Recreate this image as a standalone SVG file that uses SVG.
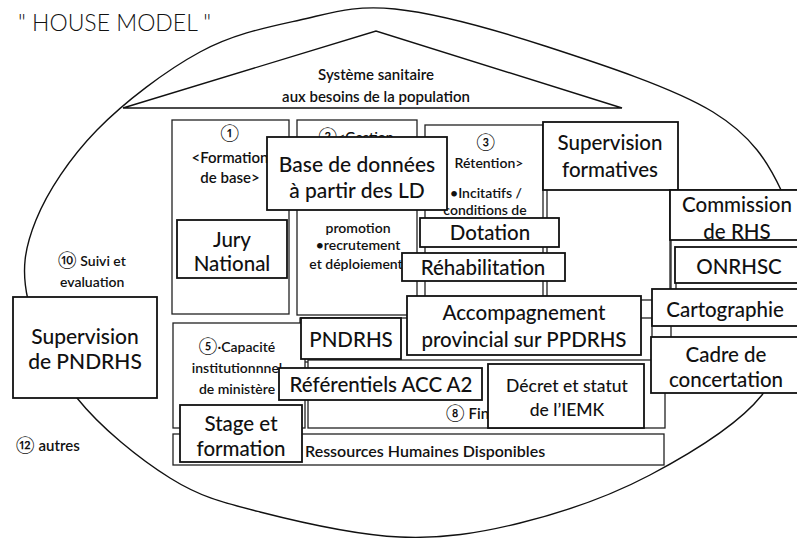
<svg xmlns="http://www.w3.org/2000/svg" width="797" height="538" viewBox="0 0 797 538">
<style>
.col{fill:#fff;stroke:#222;stroke-width:1.3}
.box{fill:#fff;stroke:#111;stroke-width:1.8}
.outline{fill:none;stroke:#111;stroke-width:1.4}
text{font-family:Lato,"Liberation Sans","DejaVu Sans",sans-serif;fill:#111;text-anchor:middle}
.big{font-size:20.5px;font-weight:500}
.mid{font-size:17.5px;font-weight:500}
.sm{font-size:14px;font-weight:600}
.lft{text-anchor:start}
.num{font-size:17px;font-weight:400}
</style>
<rect width="797" height="538" fill="#fff"/>
<g id="title"><text x="18" y="31" class="lft" style="font-size:23px;font-weight:300">" HOUSE MODEL "</text></g>
<g id="frame">
<path class="outline" d="M395,9 C435.8,13.3 492,28.8 545,46 C598,63.2 673.5,87.7 713,112 C752.5,136.3 768,162.3 782,192 C796,221.7 800.3,256.2 797,290 C793.7,323.8 786.5,364.2 762,395 C737.5,425.8 690.3,453.7 650,475 C609.7,496.3 561.7,512.7 520,523 C478.3,533.3 443.3,538.8 400,537 C356.7,535.2 298.3,521.8 260,512 C221.7,502.2 200.5,497 170,478 C139.5,459 100.7,427.7 77,398 C53.3,368.3 34.8,329.7 28,300 C21.2,270.3 24.5,248.3 36,220 C47.5,191.7 69.7,158 97,130 C124.3,102 166.2,70.3 200,52 C233.8,33.7 267.5,27.2 300,20 C332.5,12.8 354.2,4.7 395,9 Z"/>
</g>
<g id="roof">
<polygon class="outline" points="123,108 376,31 622,108"/>
<text class="sm" x="376" y="80" style="font-size:15px">Système sanitaire</text>
<text class="sm" x="376" y="102" style="font-size:15px">aux besoins de la population</text>
</g>
<g id="col1">
<rect class="col" x="172" y="120" width="117" height="194"/>
<text class="num" x="230" y="139">①</text>
<text class="sm" x="230" y="163" style="font-size:15px">&lt;Formation</text>
<text class="sm" x="230" y="183" style="font-size:15px">de base&gt;</text>
</g>
<g id="col2">
<rect class="col" x="297" y="120" width="120" height="195"/>
<text class="sm" x="356" y="142"><tspan class="num">②</tspan>&lt;Gestion</text>
<text class="sm" x="358" y="233">promotion</text>
<text class="sm" x="358" y="250">•recrutement</text>
<text class="sm" x="356" y="269">et déploiement</text>
</g>
<g id="col3">
<rect class="col" x="425" y="125" width="118" height="180"/>
<text class="num" x="486" y="148">③</text>
<text class="sm" x="489" y="168">Rétention&gt;</text>
<text class="sm" x="486" y="198">•Incitatifs /</text>
<text class="sm" x="485" y="215">conditions de</text>
</g>
<g id="col4"><rect class="col" x="547" y="150" width="123" height="150"/></g>
<g id="col-right"><rect class="col" x="671" y="190" width="140" height="150"/><rect class="col" x="676" y="280" width="130" height="12"/></g>
<g id="band"><rect class="col" x="300" y="318" width="352" height="44"/></g>
<g id="col5">
<rect class="col" x="173" y="323" width="132" height="105"/>
<text class="sm" x="237" y="352"><tspan class="num">⑤</tspan>·Capacité</text>
<text class="sm" x="237" y="373">institutionnnel</text>
<text class="sm" x="237" y="394">de ministère</text>
</g>
<g id="col8">
<rect class="col" x="308" y="360" width="357" height="68"/>
<text class="sm lft" x="446" y="419" style="font-size:15px"><tspan class="num">⑧</tspan> Fin</text>
</g>
<g id="rhd">
<rect class="col" x="173" y="434" width="491" height="31"/>
<text class="lft" x="305" y="457" style="font-size:16px;font-weight:600">Ressources Humaines Disponibles</text>
</g>
<g id="base"><rect class="box" x="267" y="137" width="180" height="73"/>
<text class="big" x="357" y="172" style="font-size:21px">Base de données</text>
<text class="big" x="357" y="198" style="font-size:21px">à partir des LD</text></g>
<g id="supform"><rect class="box" x="543" y="122" width="135" height="68"/>
<text class="big" x="610" y="150">Supervision</text>
<text class="big" x="610" y="177">formatives</text></g>
<g id="jury"><rect class="box" x="177" y="220" width="110" height="58"/>
<text class="big" x="232" y="247">Jury</text>
<text class="big" x="232" y="271">National</text></g>
<g id="dotation"><rect class="box" x="420" y="218" width="139" height="29"/>
<text class="big" x="490" y="240">Dotation</text></g>
<g id="rehab"><rect class="box" x="402" y="253" width="163" height="28"/>
<text class="big" x="483" y="275">Réhabilitation</text></g>
<g id="commission"><rect class="box" x="670" y="190" width="140" height="50"/>
<text class="big" x="737" y="212">Commission</text>
<text class="big" x="737" y="239">de RHS</text></g>
<g id="onrhsc"><rect class="box" x="675" y="247" width="135" height="36"/>
<text class="big" x="739" y="274">ONRHSC</text></g>
<g id="carto"><rect class="box" x="652" y="289" width="158" height="37"/>
<text class="big" x="725" y="317">Cartographie</text></g>
<g id="cadre"><rect class="box" x="651" y="337" width="159" height="56"/>
<text class="big" x="726" y="362">Cadre de</text>
<text class="big" x="726" y="387">concertation</text></g>
<g id="supnd"><rect class="box" x="13" y="297" width="144" height="101"/>
<text class="big" x="85" y="344" style="font-size:21px">Supervision</text>
<text class="big" x="85" y="369" style="font-size:21px">de PNDRHS</text></g>
<g id="suivi">
<text class="sm lft" x="58" y="266"><tspan class="num">⑩</tspan> Suivi et</text>
<text class="sm lft" x="60" y="287">evaluation</text>
</g>
<g id="autres"><text class="sm lft" x="16" y="451" style="font-size:15px"><tspan class="num">⑫</tspan> autres</text></g>
<g id="pndrhs"><rect class="box" x="301" y="318" width="100" height="41"/>
<text class="big" x="351" y="347">PNDRHS</text></g>
<g id="accomp"><rect class="box" x="407" y="296" width="234" height="59"/>
<text class="big" x="524" y="320">Accompagnement</text>
<text class="big" x="524" y="347">provincial sur PPDRHS</text></g>
<g id="referentiels"><rect class="box" x="279" y="368" width="203" height="32"/>
<text class="big" x="381" y="392">Référentiels ACC A2</text></g>
<g id="decret"><rect class="box" x="488" y="364" width="156" height="64"/>
<text class="mid" x="567" y="392">Décret et statut</text>
<text class="mid" x="567" y="416">de l’IEMK</text></g>
<g id="stage"><rect class="box" x="180" y="405" width="122" height="57"/>
<text class="big" x="241" y="431">Stage et</text>
<text class="big" x="241" y="456">formation</text></g>
<g id="connectors"></g>
</svg>
